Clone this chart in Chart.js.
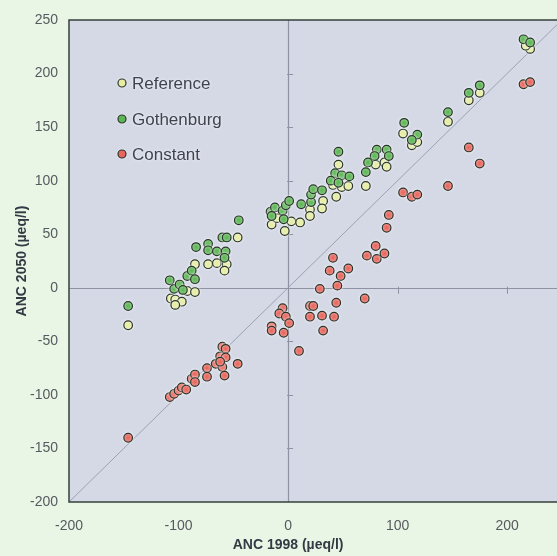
<!DOCTYPE html>
<html>
<head>
<meta charset="utf-8">
<script src="https://cdn.jsdelivr.net/npm/chart.js@4/dist/chart.umd.min.js"></script>
<style>
  html, body { margin: 0; padding: 0; background: #eaf6e5; overflow: hidden; }
  /* the plot runs off the right-hand edge of the figure */
  #wrap { width: 557px; height: 556px; position: relative; overflow: hidden; }
  #c { display: block; }
</style>
</head>
<body>
<div id="wrap"><canvas id="c" width="563" height="556"></canvas></div>
<script>
// Tick values for both axes
const xTicks = [-200, -100, 0, 100, 200];
const yTicks = [-200, -150, -100, -50, 0, 50, 100, 150, 200, 250];

// Series names
const seriesNames = ['Reference', 'Gothenburg', 'Constant'];

// Reference scenario: ANC 1998 vs ANC 2050
const refX = [-146, -107, -103, -97, -103, -92, -85, -85, -73, -65, -56, -58, -46,
  -15, -3, 3, -10, 11, 20, 32, 41, 49, 55, 44, 31, 46, 71, 80, 88, 90,
  105, 113, 118, 146, 165, 175, 221, 217, 20];
const refY = [-35, -10, -11, -13, -16, -3, -4, 22, 22, 23, 22, 16, 47,
  59, 53, 62, 65, 61, 73, 81, 96, 94, 95, 85, 74, 115, 95, 115, 117, 113,
  144, 133, 136, 155, 175, 182, 223, 226, 67];

// Gothenburg protocol scenario
const gothX = [-146, -108, -104, -99, -96, -92, -88, -85, -84, -73, -73, -65, -57, -58, -60, -56, -45,
  -16, -12, -15, -5, -2, 1, -4, 12, 21, 21, 23, 31, 43, 49, 56, 39, 46, 46,
  81, 90, 79, 92, 73, 71, 106, 118, 113, 146, 165, 175, 215, 221];
const gothY = [-17, 7, -1, 3, -2, 11, 16, 8, 38, 41, 35, 34, 34, 28, 47, 47, 63,
  71, 75, 67, 72, 77, 81, 64, 78, 80, 87, 92, 91, 107, 105, 104, 100, 127, 98,
  129, 129, 123, 123, 117, 108, 154, 143, 138, 164, 182, 189, 232, 229];

// Constant deposition scenario
const constX = [-146, -108, -104, -100, -97, -93, -88, -85, -85, -74, -74, -66, -62, -60, -57, -60, -57, -58, -46, -62,
  92, 90, 80, 72, 81, 88, 41, 55, 38, 48, 45, 29, 70, 44, 20, 23, 31, 20, 42, 32, 10,
  -5, -8, -2, 1, -4, -15, -15, 105, 113, 118, 146, 165, 175, 215, 221];
const constY = [-140, -102, -99, -96, -93, -95, -85, -81, -88, -75, -83, -71, -64, -55, -57, -74, -65, -82, -71, -69,
  68, 56, 39, 30, 27, 32, 28, 18, 16, 11, 2, -1, -10, -14, -17, -17, -26, -27, -27, -40, -59,
  -19, -24, -27, -33, -42, -36, -40, 89, 85, 87, 95, 131, 116, 190, 192];

const fills = ['#e6eda3', '#5db655', '#e8665d'];
const edge = '#2a352b';
const FONT = '"Liberation Sans", Arial, Helvetica, sans-serif';

const pts = (xs, ys) => xs.map((x, i) => ({ x: x, y: ys[i] }));

// Background, frame, zero lines, 1:1 line, legend and axis titles
const framePlugin = {
  id: 'frame',
  beforeDraw(chart) {
    const { ctx, chartArea: a } = chart;
    ctx.save();
    ctx.fillStyle = '#eaf6e5';
    ctx.fillRect(0, 0, chart.width, chart.height);
    ctx.fillStyle = '#d5d9e6';
    ctx.fillRect(a.left, a.top, chart.width - a.left, a.bottom - a.top);
    ctx.restore();
  },
  beforeDatasetsDraw(chart) {
    const { ctx, chartArea: a, scales: { x, y } } = chart;
    const x0 = x.getPixelForValue(0), y0 = y.getPixelForValue(0);
    const right = chart.width;
    ctx.save();
    // 1:1 line
    const vEnd = x.getValueForPixel(right);
    ctx.strokeStyle = '#9ca2b2';
    ctx.lineWidth = 1;
    ctx.beginPath();
    ctx.moveTo(x.getPixelForValue(-200), y.getPixelForValue(-200));
    ctx.lineTo(right, y.getPixelForValue(vEnd));
    ctx.stroke();
    // zero lines
    ctx.strokeStyle = '#8d93a3';
    ctx.lineWidth = 1.2;
    ctx.beginPath();
    ctx.moveTo(Math.round(x0) + 0.5, a.top);
    ctx.lineTo(Math.round(x0) + 0.5, a.bottom);
    ctx.moveTo(a.left, Math.round(y0) + 0.5);
    ctx.lineTo(right, Math.round(y0) + 0.5);
    ctx.stroke();
    // small tick marks on the zero lines
    ctx.lineWidth = 1;
    ctx.beginPath();
    yTicks.forEach(v => {
      if (v === 0 || v === y.min || v === y.max) return;
      const p = Math.round(y.getPixelForValue(v)) + 0.5;
      ctx.moveTo(x0 - 1, p); ctx.lineTo(x0 + 5, p);
    });
    xTicks.forEach(v => {
      if (v === 0 || v === x.min) return;
      const p = Math.round(x.getPixelForValue(v)) + 0.5;
      ctx.moveTo(p, y0 - 1); ctx.lineTo(p, y0 + 6);
    });
    ctx.stroke();
    // frame
    ctx.strokeStyle = '#34403a';
    ctx.lineWidth = 1.5;
    ctx.beginPath();
    ctx.moveTo(right, a.top);
    ctx.lineTo(a.left, a.top);
    ctx.lineTo(a.left, a.bottom);
    ctx.lineTo(right, a.bottom);
    ctx.stroke();
    ctx.restore();
    // soft light halo around markers
    ctx.save();
    ctx.shadowColor = 'rgba(255,255,255,0.85)';
    ctx.shadowBlur = 3;
  },
  afterDatasetsDraw(chart) {
    chart.ctx.restore();
  },
  afterDraw(chart) {
    const { ctx } = chart;
    ctx.save();
    // legend
    ctx.font = '17px ' + FONT;
    ctx.textBaseline = 'middle';
    ctx.textAlign = 'left';
    const ly = [83, 119, 154];
    seriesNames.forEach((name, i) => {
      ctx.shadowColor = 'rgba(255,255,255,0.9)';
      ctx.shadowBlur = 3;
      ctx.beginPath();
      ctx.arc(122, ly[i], 4, 0, Math.PI * 2);
      ctx.fillStyle = fills[i];
      ctx.fill();
      ctx.shadowBlur = 0;
      ctx.lineWidth = 1.2;
      ctx.strokeStyle = edge;
      ctx.stroke();
      ctx.shadowBlur = 3;
      ctx.fillStyle = '#3d4450';
      ctx.fillText(name, 132, ly[i] + 1);
    });
    ctx.shadowBlur = 0;
    // axis titles
    ctx.fillStyle = '#333a44';
    ctx.font = 'bold 14px ' + FONT;
    ctx.textAlign = 'center';
    ctx.fillText('ANC 1998 (\u00b5eq/l)', chart.scales.x.getPixelForValue(0), 545);
    ctx.translate(22, (chart.chartArea.top + chart.chartArea.bottom) / 2);
    ctx.rotate(-Math.PI / 2);
    ctx.fillText('ANC 2050 (\u00b5eq/l)', 0, 0);
    ctx.restore();
  }
};

const ds = (label, data, i) => ({
  label: label,
  data: data,
  backgroundColor: fills[i],
  borderColor: edge,
  borderWidth: 1.2,
  pointRadius: 4.3,
  pointHoverRadius: 4.3
});

new Chart(document.getElementById('c'), {
  type: 'scatter',
  data: {
    datasets: [
      ds(seriesNames[2], pts(constX, constY), 2),
      ds(seriesNames[1], pts(gothX, gothY), 1),
      ds(seriesNames[0], pts(refX, refY), 0)
    ]
  },
  options: {
    responsive: false,
    animation: false,
    devicePixelRatio: 1,
    layout: { padding: { top: 20, left: 0, right: 0, bottom: 0 } },
    plugins: { legend: { display: false }, tooltip: { enabled: false } },
    scales: {
      x: {
        type: 'linear',
        min: -200,
        max: 246,
        afterBuildTicks: s => { s.ticks = xTicks.map(v => ({ value: v })); },
        afterFit: s => { s.height = 54; s.paddingLeft = 0; s.paddingRight = 0; },
        grid: { display: false, drawTicks: false },
        border: { display: false },
        ticks: { color: '#555a60', font: { family: FONT, size: 14 }, padding: 16, maxRotation: 0 }
      },
      y: {
        type: 'linear',
        min: -200,
        max: 250,
        afterBuildTicks: s => { s.ticks = yTicks.map(v => ({ value: v })); },
        afterFit: s => { s.width = 69; s.paddingTop = 0; s.paddingBottom = 0; },
        grid: { display: false, drawTicks: false },
        border: { display: false },
        ticks: { color: '#555a60', font: { family: FONT, size: 14 }, padding: 11 }
      }
    }
  },
  plugins: [framePlugin]
});
</script>
</body>
</html>
